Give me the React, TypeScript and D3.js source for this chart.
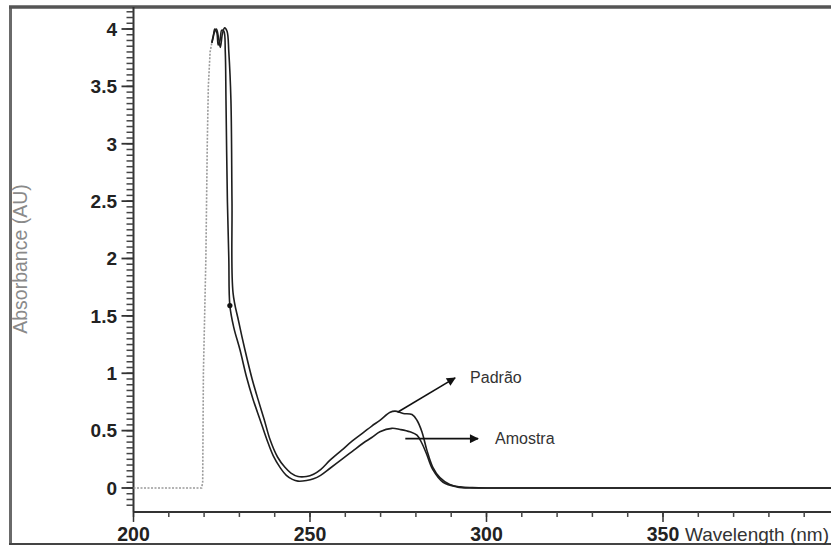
import React from "react";
import * as d3 from "d3";

// ---- data ----
const onsetWl = [200, 210, 218, 219.3, 219.6, 219.8, 220.5, 220.9, 221.2, 221.7, 222.2];
const onsetAbs = [0, 0, 0, 0.0, 0.05, 1.0, 2.0, 3.0, 3.5, 3.8, 3.88];

const padraoWl = [222.2, 222.8, 223.5, 224.1, 224.6, 225.2, 225.8, 226.5, 227.0, 227.6, 227.9, 228.2, 229.8, 231.6, 233.6, 235.3, 237.0, 238.7, 240.8, 242.9, 244.6, 246.6, 249, 251, 253, 255.6, 259, 262, 265, 267.5, 269.8, 272.7, 274.1, 276.4, 278.9, 280.3, 281.7, 283.1, 284.8, 286.8, 289.6, 292.5, 296, 300, 350, 400];
const padraoAbs = [3.88, 3.96, 4.0, 3.92, 3.84, 3.96, 4.01, 3.98, 3.8, 3.38, 2.5, 1.7, 1.45, 1.2, 0.95, 0.77, 0.6, 0.42, 0.27, 0.18, 0.13, 0.1, 0.1, 0.12, 0.16, 0.24, 0.33, 0.41, 0.48, 0.54, 0.59, 0.66, 0.67, 0.65, 0.64, 0.59, 0.49, 0.33, 0.18, 0.09, 0.03, 0.01, 0.003, 0, 0, 0];

const amostraWl = [222.2, 222.6, 223.0, 223.6, 224.0, 224.5, 225.0, 225.6, 226.0, 226.2, 226.6, 227.0, 227.3, 228.4, 230.2, 232.0, 233.9, 235.8, 237.8, 239.6, 241.5, 243.3, 245, 246.6, 249, 251, 253, 255.6, 259, 262, 265, 267.5, 269.8, 273.2, 275.5, 278.3, 280.3, 281.7, 283.1, 284.8, 287.7, 291.6, 296, 300, 350, 400];
const amostraAbs = [3.88, 3.93, 4.0, 3.97, 3.86, 3.9, 3.99, 3.98, 3.8, 3.38, 2.5, 2.0, 1.59, 1.4, 1.2, 0.97, 0.77, 0.6, 0.42, 0.28, 0.18, 0.11, 0.075, 0.06, 0.065, 0.08, 0.11, 0.17, 0.25, 0.32, 0.39, 0.44, 0.49, 0.52, 0.51, 0.49, 0.46, 0.39, 0.29, 0.16, 0.05, 0.01, 0, 0, 0, 0];

const xMajorTicks = [200, 250, 300, 350];
const yMajorTicks = [0, 0.5, 1, 1.5, 2, 2.5, 3, 3.5, 4];
const xTitle = "Wavelength (nm)";
const yTitle = "Absorbance (AU)";

const annoLabels = ["Padrão", "Amostra"];
const annoFromWl = [274.8, 277.0];
const annoFromAbs = [0.66, 0.43];
const annoToWl = [291.1, 297.6];
const annoToAbs = [0.96, 0.43];

const kinkWl = 227.3;
const kinkAbs = 1.59;

export default function App() {
  const W = 831, H = 545;
  const x = d3.scaleLinear().domain([200, 400]).range([133.5, 133.5 + 200 * 3.53]);
  const y = d3.scaleLinear().domain([0, 4]).range([488, 29]);

  const line = d3
    .line<[number, number]>()
    .x((d) => x(d[0]))
    .y((d) => y(d[1]))
    .curve(d3.curveCatmullRom.alpha(0.5));
  const lineLin = d3
    .line<[number, number]>()
    .x((d) => x(d[0]))
    .y((d) => y(d[1]));

  const zip = (a: number[], b: number[]) => a.map((v, i) => [v, b[i]] as [number, number]);

  const axisY = y(-0.2) + 1;
  const axisX = x(200);

  const xMinor = d3.range(200, 400, 10);
  const yMinor = d3.range(-15, 420, 5).map((v) => v / 100);

  const font = "'Liberation Sans', Arial, sans-serif";

  return (
    <svg
      width={W}
      height={H}
      style={{ position: "fixed", left: 0, top: 0, background: "#fff" }}
      fontFamily={font}
    >
      <defs>
        <marker id="arr" viewBox="0 0 10 10" refX="9" refY="5" markerWidth="10" markerHeight="9" orient="auto" markerUnits="userSpaceOnUse">
          <path d="M0,0 L10,5 L0,10 z" fill="#111" />
        </marker>
      </defs>
      {/* frame */}
      <line x1={10.5} x2={10.5} y1={6} y2={545} stroke="#6a6a6a" strokeWidth={3} />
      <line x1={9} x2={831} y1={7} y2={7} stroke="#555" strokeWidth={3.5} />
      <line x1={9} x2={831} y1={544} y2={544} stroke="#444" strokeWidth={2} />

      {/* y axis */}
      <line x1={axisX} x2={axisX} y1={7} y2={axisY} stroke="#333" strokeWidth={2} />
      {yMinor.map((v) => (
        <line key={"ym" + v} x1={axisX - 7} x2={axisX} y1={y(v)} y2={y(v)} stroke="#444" strokeWidth={1.5} />
      ))}
      {yMajorTicks.map((v) => (
        <g key={"yt" + v}>
          <line x1={axisX - 12} x2={axisX} y1={y(v)} y2={y(v)} stroke="#333" strokeWidth={1.8} />
          <text x={117} y={y(v)} dy="0.36em" textAnchor="end" fontSize={19} fontWeight="bold" fill="#222">
            {v}
          </text>
        </g>
      ))}
      <text
        transform={`translate(20,${259}) rotate(-90)`}
        textAnchor="middle"
        dy="0.35em"
        fontSize={19.5}
        fill="#8a8a8a"
      >
        {yTitle}
      </text>

      {/* x axis */}
      <line x1={axisX} x2={W} y1={axisY} y2={axisY} stroke="#333" strokeWidth={2} />
      {xMinor.map((v) => (
        <line key={"xm" + v} x1={x(v)} x2={x(v)} y1={axisY} y2={axisY + 5} stroke="#444" strokeWidth={1.5} />
      ))}
      {xMajorTicks.map((v) => (
        <g key={"xt" + v}>
          <line x1={x(v)} x2={x(v)} y1={axisY} y2={axisY + 10} stroke="#333" strokeWidth={1.5} />
          <text x={x(v)} y={541} textAnchor="middle" fontSize={19.5} fontWeight="bold" fill="#222">
            {v}
          </text>
        </g>
      ))}
      <text x={685} y={541} fontSize={19} fill="#333">
        {xTitle}
      </text>

      {/* curves */}
      <path d={lineLin(zip(onsetWl, onsetAbs)) || ""} fill="none" stroke="#9a9a9a" strokeWidth={1.6} strokeDasharray="2 1.5" />
      <path d={line(zip(amostraWl, amostraAbs)) || ""} fill="none" stroke="#1e1e1e" strokeWidth={1.6} />
      <path d={line(zip(padraoWl, padraoAbs)) || ""} fill="none" stroke="#1e1e1e" strokeWidth={1.6} />
      <circle cx={x(kinkWl)} cy={y(kinkAbs)} r={2.6} fill="#111" />

      {/* annotations */}
      {annoLabels.map((lab, i) => (
        <g key={lab}>
          <line
            x1={x(annoFromWl[i])}
            y1={y(annoFromAbs[i])}
            x2={x(annoToWl[i])}
            y2={y(annoToAbs[i])}
            stroke="#111"
            strokeWidth={1.6}
            markerEnd="url(#arr)"
          />
          <text x={x(annoToWl[i]) + (i === 0 ? 15 : 17)} y={y(annoToAbs[i])} dy="0.35em" fontSize={16} fill="#333">
            {lab}
          </text>
        </g>
      ))}
    </svg>
  );
}
